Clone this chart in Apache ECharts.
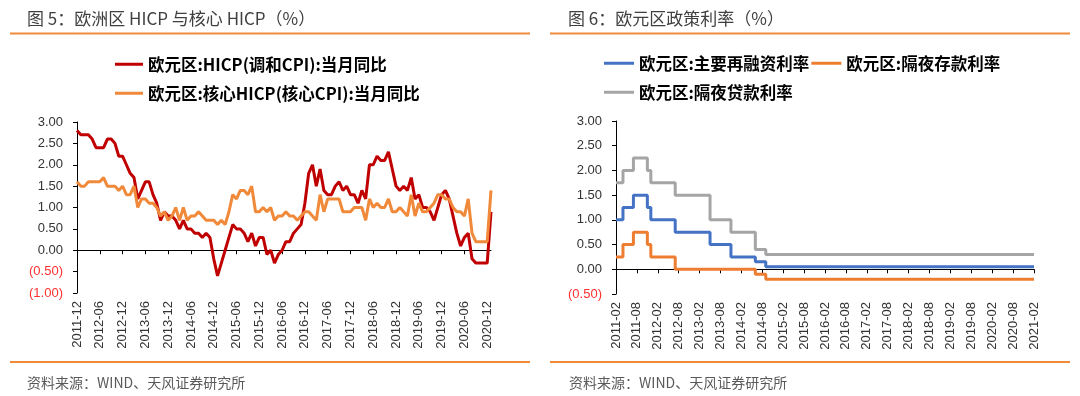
<!DOCTYPE html>
<html>
<head>
	<meta charset="utf-8">
	<title></title>
	<script src="https://cdn.jsdelivr.net/npm/echarts@6/dist/echarts.min.js"></script>
</head>
<body style="margin: 0; background: #fff;">
	<div id="main" style="width: 1080px; height: 396px;"></div>
	<script>

		// 图5：欧元区 HICP 与核心 HICP，月度 2011-12 ~ 2021-01
		var hicp = [
			2.8, 2.7, 2.7, 2.7, 2.6, 2.4, 2.4, 2.4, 2.6, 2.6, 2.5, 2.2,
			2.2, 2.0, 1.8, 1.7, 1.2, 1.4, 1.6, 1.6, 1.3, 1.1, 0.7, 0.9,
			0.8, 0.8, 0.7, 0.5, 0.7, 0.5, 0.5, 0.4, 0.4, 0.3, 0.4, 0.3,
			-0.2, -0.6, -0.3, 0.0, 0.3, 0.6, 0.5, 0.5, 0.4, 0.2, 0.4, 0.1,
			0.3, 0.3, -0.1, 0.0, -0.3, -0.1, 0.0, 0.2, 0.2, 0.4, 0.5, 0.6,
			1.1, 1.8, 2.0, 1.5, 1.9, 1.4, 1.3, 1.3, 1.5, 1.6, 1.4, 1.5,
			1.3, 1.3, 1.1, 1.4, 1.2, 2.0, 2.0, 2.2, 2.1, 2.1, 2.3, 1.9,
			1.5, 1.4, 1.5, 1.4, 1.7, 1.2, 1.3, 1.0, 1.0, 0.9, 0.7, 1.0,
			1.3, 1.4, 1.2, 0.8, 0.4, 0.1, 0.3, 0.4, -0.2, -0.3, -0.3, -0.3,
			-0.3, 0.9
		]
		var coreHicp = [
			1.6, 1.5, 1.5, 1.6, 1.6, 1.6, 1.6, 1.7, 1.5, 1.5, 1.5, 1.4,
			1.5, 1.3, 1.3, 1.5, 1.0, 1.2, 1.2, 1.1, 1.1, 1.0, 0.8, 0.9,
			0.7, 0.8, 1.0, 0.7, 1.0, 0.7, 0.8, 0.8, 0.9, 0.8, 0.7, 0.7,
			0.7, 0.6, 0.7, 0.6, 0.9, 1.3, 1.2, 1.4, 1.4, 1.3, 1.5, 0.9,
			0.9, 1.0, 0.9, 1.0, 0.7, 0.8, 0.8, 0.9, 0.8, 0.8, 0.7, 0.8,
			0.9, 0.9, 0.8, 0.7, 1.3, 0.9, 1.2, 1.2, 1.2, 1.2, 0.9, 0.9,
			0.9, 1.0, 1.0, 1.0, 0.7, 1.2, 1.0, 1.1, 1.0, 1.0, 1.2, 0.9,
			0.9, 1.0, 0.9, 0.8, 1.3, 0.8, 1.1, 0.9, 0.9, 1.0, 1.1, 1.3,
			1.3, 1.2, 1.2, 1.0, 0.9, 0.9, 0.8, 1.2, 0.4, 0.2, 0.2, 0.2,
			0.2, 1.4
		]

		// 图6：欧元区政策利率，月度 2011-02 ~ 2021-02
		var mro = [
			1.00, 1.00, 1.25, 1.25, 1.25, 1.50, 1.50, 1.50, 1.50, 1.25, 1.00,
			1.00, 1.00, 1.00, 1.00, 1.00, 1.00, 0.75, 0.75, 0.75, 0.75, 0.75, 0.75,
			0.75, 0.75, 0.75, 0.75, 0.50, 0.50, 0.50, 0.50, 0.50, 0.50, 0.25, 0.25,
			0.25, 0.25, 0.25, 0.25, 0.25, 0.15, 0.15, 0.15, 0.05, 0.05, 0.05, 0.05,
			0.05, 0.05, 0.05, 0.05, 0.05, 0.05, 0.05, 0.05, 0.05, 0.05, 0.05, 0.05,
			0.05, 0.05, 0.05, 0.05, 0.05, 0.05, 0.05, 0.05, 0.05, 0.05, 0.05, 0.05,
			0.05, 0.05, 0.05, 0.05, 0.05, 0.05, 0.05, 0.05, 0.05, 0.05, 0.05, 0.05,
			0.05, 0.05, 0.05, 0.05, 0.05, 0.05, 0.05, 0.05, 0.05, 0.05, 0.05, 0.05,
			0.05, 0.05, 0.05, 0.05, 0.05, 0.05, 0.05, 0.05, 0.05, 0.05, 0.05, 0.05,
			0.05, 0.05, 0.05, 0.05, 0.05, 0.05, 0.05, 0.05, 0.05, 0.05, 0.05, 0.05,
			0.05, 0.05
		]
		var depo = [
			0.25, 0.25, 0.50, 0.50, 0.50, 0.75, 0.75, 0.75, 0.75, 0.50, 0.25,
			0.25, 0.25, 0.25, 0.25, 0.25, 0.25, 0.00, 0.00, 0.00, 0.00, 0.00, 0.00,
			0.00, 0.00, 0.00, 0.00, 0.00, 0.00, 0.00, 0.00, 0.00, 0.00, 0.00, 0.00,
			0.00, 0.00, 0.00, 0.00, 0.00, -0.10, -0.10, -0.10, -0.20, -0.20, -0.20, -0.20,
			-0.20, -0.20, -0.20, -0.20, -0.20, -0.20, -0.20, -0.20, -0.20, -0.20, -0.20, -0.20,
			-0.20, -0.20, -0.20, -0.20, -0.20, -0.20, -0.20, -0.20, -0.20, -0.20, -0.20, -0.20,
			-0.20, -0.20, -0.20, -0.20, -0.20, -0.20, -0.20, -0.20, -0.20, -0.20, -0.20, -0.20,
			-0.20, -0.20, -0.20, -0.20, -0.20, -0.20, -0.20, -0.20, -0.20, -0.20, -0.20, -0.20,
			-0.20, -0.20, -0.20, -0.20, -0.20, -0.20, -0.20, -0.20, -0.20, -0.20, -0.20, -0.20,
			-0.20, -0.20, -0.20, -0.20, -0.20, -0.20, -0.20, -0.20, -0.20, -0.20, -0.20, -0.20,
			-0.20, -0.20
		]
		var lending = [
			1.75, 1.75, 2.00, 2.00, 2.00, 2.25, 2.25, 2.25, 2.25, 2.00, 1.75,
			1.75, 1.75, 1.75, 1.75, 1.75, 1.75, 1.50, 1.50, 1.50, 1.50, 1.50, 1.50,
			1.50, 1.50, 1.50, 1.50, 1.00, 1.00, 1.00, 1.00, 1.00, 1.00, 0.75, 0.75,
			0.75, 0.75, 0.75, 0.75, 0.75, 0.40, 0.40, 0.40, 0.30, 0.30, 0.30, 0.30,
			0.30, 0.30, 0.30, 0.30, 0.30, 0.30, 0.30, 0.30, 0.30, 0.30, 0.30, 0.30,
			0.30, 0.30, 0.30, 0.30, 0.30, 0.30, 0.30, 0.30, 0.30, 0.30, 0.30, 0.30,
			0.30, 0.30, 0.30, 0.30, 0.30, 0.30, 0.30, 0.30, 0.30, 0.30, 0.30, 0.30,
			0.30, 0.30, 0.30, 0.30, 0.30, 0.30, 0.30, 0.30, 0.30, 0.30, 0.30, 0.30,
			0.30, 0.30, 0.30, 0.30, 0.30, 0.30, 0.30, 0.30, 0.30, 0.30, 0.30, 0.30,
			0.30, 0.30, 0.30, 0.30, 0.30, 0.30, 0.30, 0.30, 0.30, 0.30, 0.30, 0.30,
			0.30, 0.30
		]

		// 月份类目
		function monthList(y, m, n) {
			var arr = []
			for (var i = 0; i < n; i++) {
				arr.push(y + '-' + (m < 10 ? '0' + m : m))
				m++
				if (m > 12) { m = 1; y++ }
			}
			return arr
		}
		var months1 = monthList(2011, 12, hicp.length)
		var months2 = monthList(2011, 2, mro.length)

		var cjk = '"Noto Sans CJK SC", sans-serif'
		var num = '"Liberation Sans", Arial, sans-serif'
		var rule = '#F08A3A'

		function yFmt(v) {
			if (v < 0) return '{neg|(' + (-v).toFixed(2) + ')}'
			return v.toFixed(2)
		}

		function yAxisOf(grid, min, max) {
			return {
				type: 'value', gridIndex: grid, min: min, max: max, interval: 0.5,
				splitLine: { show: false },
				axisLine: { show: true, lineStyle: { color: '#000', width: 1 } },
				axisTick: { show: true, length: 4, lineStyle: { color: '#000' } },
				axisLabel: {
					formatter: yFmt, margin: 14, color: '#333', fontSize: 13, fontFamily: num,
					rich: { neg: { color: '#FF3030', fontSize: 13, fontFamily: num } }
				}
			}
		}

		// 下方只放标签，0 线上的轴线单独一根
		function xLabelAxis(grid, data) {
			return {
				type: 'category', gridIndex: grid, data: data, boundaryGap: false, position: 'bottom',
				axisLine: { show: false, onZero: false }, axisTick: { show: false },
				axisLabel: { interval: 5, rotate: 90, margin: 8, color: '#333', fontSize: 13, fontFamily: num }
			}
		}
		function xZeroAxis(grid, data) {
			return {
				type: 'category', gridIndex: grid, data: data, boundaryGap: false, position: 'top',
				axisLine: { show: true, onZero: true, lineStyle: { color: '#000', width: 1 } },
				axisTick: { show: true, inside: true, interval: 5, length: 4, lineStyle: { color: '#000' } },
				axisLabel: { show: false }
			}
		}

		var legendText = { fontSize: 16.5, fontWeight: 'bold', color: '#000', fontFamily: cjk }

		var mCharts = echarts.init(document.getElementById('main'), null, { renderer: 'canvas' })

		var opt = {
			animation: false,
			backgroundColor: '#fff',
			title: [
				{ text: '图 5：欧洲区 HICP 与核心 HICP（%）', left: 22, top: 5,
				  textStyle: { fontSize: 17, fontWeight: 'normal', color: '#404040', fontFamily: cjk } },
				{ text: '图 6：欧元区政策利率（%）', left: 563, top: 5,
				  textStyle: { fontSize: 17, fontWeight: 'normal', color: '#404040', fontFamily: cjk } },
				{ text: '资料来源：WIND、天风证券研究所', left: 22, top: 371,
				  textStyle: { fontSize: 14, fontWeight: 'normal', color: '#595959', fontFamily: cjk } },
				{ text: '资料来源：WIND、天风证券研究所', left: 564, top: 371,
				  textStyle: { fontSize: 14, fontWeight: 'normal', color: '#595959', fontFamily: cjk } }
			],
			graphic: [
				{ type: 'line', shape: { x1: 10, y1: 33.5, x2: 530, y2: 33.5 }, style: { stroke: rule, lineWidth: 2 } },
				{ type: 'line', shape: { x1: 550, y1: 33.5, x2: 1070, y2: 33.5 }, style: { stroke: rule, lineWidth: 2 } },
				{ type: 'line', shape: { x1: 10, y1: 362, x2: 530, y2: 362 }, style: { stroke: rule, lineWidth: 2 } },
				{ type: 'line', shape: { x1: 550, y1: 362, x2: 1070, y2: 362 }, style: { stroke: rule, lineWidth: 2 } }
			],
			legend: [
				{ data: ['欧元区:HICP(调和CPI):当月同比'], left: 110, top: 51, icon: 'rect',
				  itemWidth: 28, itemHeight: 3, textStyle: legendText },
				{ data: ['欧元区:核心HICP(核心CPI):当月同比'], left: 110, top: 80, icon: 'rect',
				  itemWidth: 28, itemHeight: 3, textStyle: legendText },
				{ data: ['欧元区:主要再融资利率', '欧元区:隔夜存款利率'], left: 599, top: 50, icon: 'rect',
				  itemWidth: 30, itemHeight: 3, itemGap: 2, textStyle: legendText },
				{ data: ['欧元区:隔夜贷款利率'], left: 599, top: 79, icon: 'rect',
				  itemWidth: 30, itemHeight: 3, textStyle: legendText }
			],
			grid: [
				{ left: 77, top: 122, width: 414, height: 171 },
				{ left: 616, top: 121, width: 418, height: 173 }
			],
			xAxis: [
				xLabelAxis(0, months1), xZeroAxis(0, months1),
				xLabelAxis(1, months2), xZeroAxis(1, months2)
			],
			yAxis: [
				yAxisOf(0, -1, 3),
				yAxisOf(1, -0.5, 3)
			],
			series: [
				{ name: '欧元区:HICP(调和CPI):当月同比', type: 'line', data: hicp,
				  xAxisIndex: 0, yAxisIndex: 0, symbol: 'none', color: '#C00000', lineStyle: { width: 3 } },
				{ name: '欧元区:核心HICP(核心CPI):当月同比', type: 'line', data: coreHicp,
				  xAxisIndex: 0, yAxisIndex: 0, symbol: 'none', color: '#F08A3A', lineStyle: { width: 3 } },
				{ name: '欧元区:主要再融资利率', type: 'line', step: 'end', data: mro,
				  xAxisIndex: 2, yAxisIndex: 1, symbol: 'none', color: '#4472C4', lineStyle: { width: 3 } },
				{ name: '欧元区:隔夜存款利率', type: 'line', step: 'end', data: depo,
				  xAxisIndex: 2, yAxisIndex: 1, symbol: 'none', color: '#ED7D31', lineStyle: { width: 3 } },
				{ name: '欧元区:隔夜贷款利率', type: 'line', step: 'end', data: lending,
				  xAxisIndex: 2, yAxisIndex: 1, symbol: 'none', color: '#A5A5A5', lineStyle: { width: 3 } }
			]
		}

		mCharts.setOption(opt)

	</script>
</body>
</html>
